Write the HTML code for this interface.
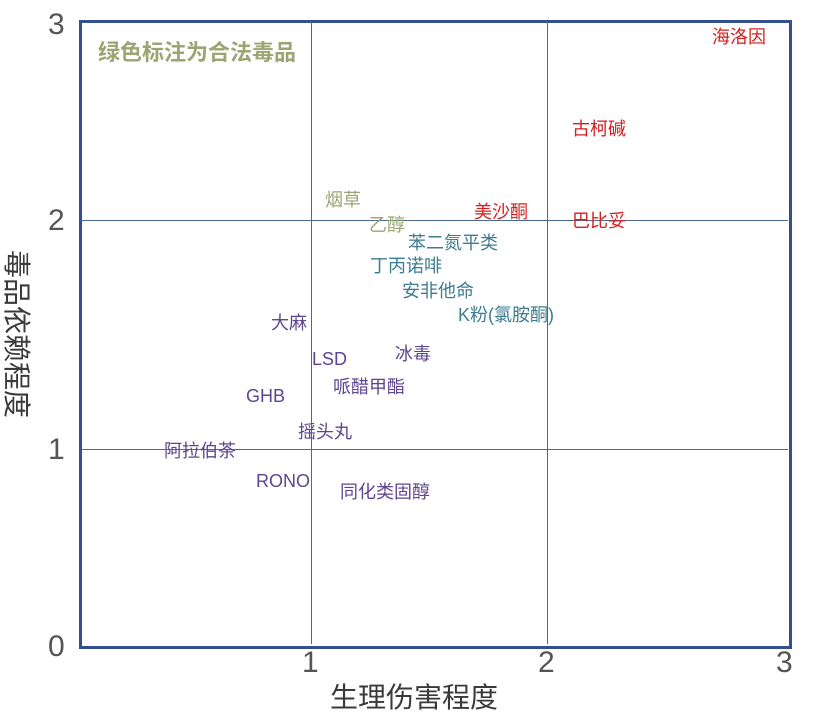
<!DOCTYPE html><html><head><meta charset="utf-8"><style>
body{margin:0;width:819px;height:720px;background:#fff;position:relative;overflow:hidden;font-family:"Liberation Sans","Noto Sans CJK SC",sans-serif}
.t{position:absolute;white-space:nowrap;font-size:18px;line-height:20px}
.p{color:#5e4590}.b{color:#3e7c90}.r{color:#d02020}.g{color:#9aa672}
.n{position:absolute;font-size:30px;color:#555;line-height:30px}
</style></head><body>
<div style="position:absolute;left:79px;top:20px;width:707px;height:623px;border:3px solid #34508c"></div>
<div style="position:absolute;left:311px;top:22px;width:1px;height:622px;background:#4a6a90"></div>
<div style="position:absolute;left:547px;top:22px;width:1px;height:622px;background:#4a6a90"></div>
<div style="position:absolute;left:81px;top:220px;width:707px;height:1px;background:#4a6a90"></div>
<div style="position:absolute;left:81px;top:449px;width:707px;height:1px;background:#4a6a90"></div>
<div class="n" style="left:48px;top:10px">3</div>
<div class="n" style="left:48px;top:206px">2</div>
<div class="n" style="left:48px;top:435px">1</div>
<div class="n" style="left:48px;top:632px">0</div>
<div class="n" style="left:302px;top:648px">1</div>
<div class="n" style="left:538px;top:648px">2</div>
<div class="n" style="left:776px;top:648px">3</div>
<div style="position:absolute;left:330px;top:676px;font-size:28px;color:#3a3a3a">生理伤害程度</div>
<div style="position:absolute;left:-72px;top:320px;font-size:28px;color:#3a3a3a;transform:rotate(90deg);width:180px">毒品依赖程度</div>
<div class="t g" style="left:98px;top:40px;font-size:22px;line-height:26px;font-weight:bold">绿色标注为合法毒品</div>
<div class="t r" style="left:712px;top:27px">海洛因</div>
<div class="t r" style="left:572px;top:119px">古柯碱</div>
<div class="t r" style="left:474px;top:202px">美沙酮</div>
<div class="t r" style="left:572px;top:211px">巴比妥</div>
<div class="t g" style="left:325px;top:190px">烟草</div>
<div class="t g" style="left:369px;top:215px">乙醇</div>
<div class="t b" style="left:408px;top:233px">苯二氮平类</div>
<div class="t b" style="left:370px;top:256px">丁丙诺啡</div>
<div class="t b" style="left:402px;top:281px">安非他命</div>
<div class="t b" style="left:458px;top:305px">K粉(氯胺酮)</div>
<div class="t p" style="left:271px;top:313px">大麻</div>
<div class="t p" style="left:312px;top:349px">LSD</div>
<div class="t p" style="left:395px;top:344px">冰毒</div>
<div class="t p" style="left:333px;top:377px">哌醋甲酯</div>
<div class="t p" style="left:246px;top:386px">GHB</div>
<div class="t p" style="left:298px;top:422px">摇头丸</div>
<div class="t p" style="left:164px;top:441px">阿拉伯茶</div>
<div class="t p" style="left:256px;top:471px">RONO</div>
<div class="t p" style="left:340px;top:482px">同化类固醇</div>
</body></html>
